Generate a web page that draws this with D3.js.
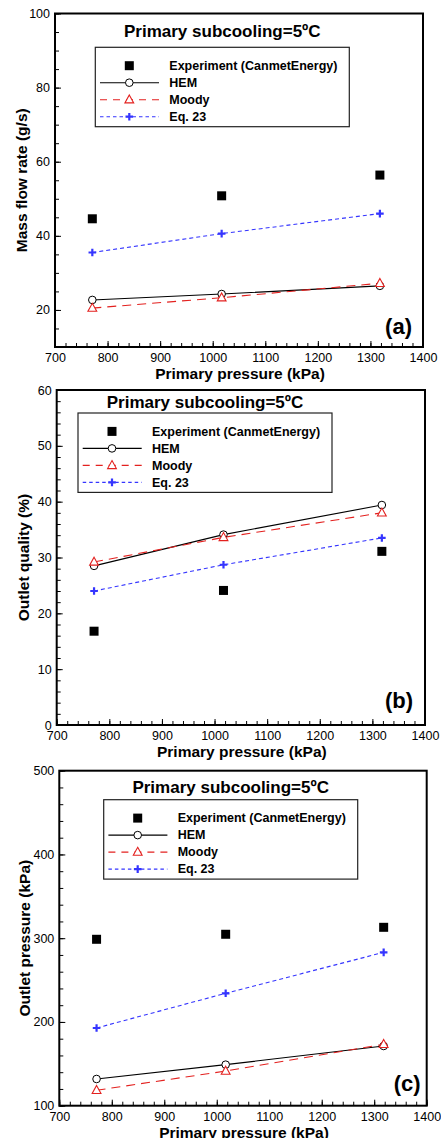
<!DOCTYPE html>
<html>
<head>
<meta charset="utf-8">
<script src="https://cdn.jsdelivr.net/npm/d3@7"></script>
<style>
  body { margin: 0; background: #fff; }
  svg { display: block; font-family: "Liberation Sans", Arial, sans-serif; }
  .tick text { font-size: 12.5px; fill: #000; font-family: "Liberation Sans", Arial, sans-serif; }
  .tick line { stroke: #000; stroke-width: 1; }
  .title { font-size: 17px; font-weight: bold; }
  .axis-title { font-size: 15.5px; font-weight: bold; }
  .legend text { font-size: 12.5px; font-weight: bold; }
  .tag { font-size: 22px; font-weight: bold; }
</style>
</head>
<body>
<svg id="chart" width="441" height="1138"></svg>
<script>
// datos
const pressure = [771, 1017, 1318];
const pressureTicks = [700, 800, 900, 1000, 1100, 1200, 1300, 1400];
const seriesNames = ["Experiment (CanmetEnergy)", "HEM", "Moody", "Eq. 23"];

// (a) caudal masico (g/s)
const flowExp = [44.6, 50.8, 56.4];
const flowHEM = [22.7, 24.3, 26.5];
const flowMoody = [20.5, 23.3, 27.2];
const flowEq23 = [35.5, 40.6, 46.0];
const flowTicks = [20, 40, 60, 80, 100];

// (b) calidad a la salida (%)
const qualityExp = [16.8, 24.1, 31.1];
const qualityHEM = [28.5, 34.1, 39.4];
const qualityMoody = [29.2, 33.6, 38.0];
const qualityEq23 = [24.0, 28.7, 33.5];
const qualityTicks = [0, 10, 20, 30, 40, 50, 60];

// (c) presion a la salida (kPa)
const outletExp = [298.7, 304.7, 313.0];
const outletHEM = [131.9, 149.0, 171.3];
const outletMoody = [118.4, 141.4, 173.3];
const outletEq23 = [192.8, 234.2, 283.1];
const outletTicks = [100, 200, 300, 400, 500];

const red = "#e3211f";
const blue = "#3535ff";

const svg = d3.select("#chart");

const panels = [
  {tag: "(a)", yLabel: "Mass flow rate (g/s)", exp: flowExp, hem: flowHEM, moody: flowMoody, eq: flowEq23,
   yDomain: [10, 100], yTicks: flowTicks, yMinor: 5,
   left: 55, right: 423, top: 13.5, bottom: 347,
   legend: {x: 95.3, y: 47.3}, titleY: 36.7, tagX: 412, tagY: 334.4, yTitleX: 22},
  {tag: "(b)", yLabel: "Outlet quality (%)", exp: qualityExp, hem: qualityHEM, moody: qualityMoody, eq: qualityEq23,
   yDomain: [0, 60], yTicks: qualityTicks, yMinor: 2,
   left: 56.7, right: 425, top: 390, bottom: 725,
   legend: {x: 78, y: 413}, titleY: 408.3, tagX: 413, tagY: 707.7, yTitleX: 23.5},
  {tag: "(c)", yLabel: "Outlet pressure (kPa)", exp: outletExp, hem: outletHEM, moody: outletMoody, eq: outletEq23,
   yDomain: [100, 500], yTicks: outletTicks, yMinor: 20,
   left: 59.3, right: 426.7, top: 770.7, bottom: 1105.7,
   legend: {x: 103.7, y: 799.7}, titleY: 793.3, tagX: 420.7, tagY: 1090.7, yTitleX: 25}
];

panels.forEach(drawPanel);

function markerSquare(sel) {
  sel.append("rect").attr("x", -4.5).attr("y", -4.5).attr("width", 9).attr("height", 9).attr("fill", "#000");
}
function markerCircle(sel) {
  sel.append("circle").attr("r", 3.8).attr("fill", "#fff").attr("stroke", "#000").attr("stroke-width", 1);
}
function markerTriangle(sel) {
  sel.append("path").attr("d", "M0,-4.8L4.4,3.2L-4.4,3.2Z")
    .attr("fill", "#fff").attr("stroke", red).attr("stroke-width", 1.1);
}
function markerPlus(sel) {
  sel.append("path").attr("d", "M-3.8,0H3.8M0,-3.8V3.8")
    .attr("stroke", blue).attr("stroke-width", 2.2);
}

function drawPanel(p) {
  const g = svg.append("g");

  const x = d3.scaleLinear().domain([700, 1400]).range([p.left, p.right]);
  const y = d3.scaleLinear().domain(p.yDomain).range([p.bottom, p.top]);

  // ejes: marcas hacia dentro
  g.append("g")
    .attr("transform", "translate(0," + p.bottom + ")")
    .call(d3.axisBottom(x).tickValues(d3.range(700, 1401, 20)).tickSize(-4).tickFormat(""))
    .call(a => a.select(".domain").remove());
  g.append("g")
    .attr("transform", "translate(0," + p.bottom + ")")
    .call(d3.axisBottom(x).tickValues(pressureTicks).tickSize(-6).tickPadding(6).tickFormat(d3.format("d")))
    .call(a => a.select(".domain").remove());

  g.append("g")
    .attr("transform", "translate(" + p.left + ",0)")
    .call(d3.axisLeft(y).tickValues(d3.range(p.yDomain[0], p.yDomain[1] + 0.001, p.yMinor)).tickSize(-4).tickFormat(""))
    .call(a => a.select(".domain").remove());
  g.append("g")
    .attr("transform", "translate(" + p.left + ",0)")
    .call(d3.axisLeft(y).tickValues(p.yTicks).tickSize(-6).tickPadding(5).tickFormat(d3.format("d")))
    .call(a => a.select(".domain").remove());

  // marco
  g.append("rect")
    .attr("x", p.left).attr("y", p.top)
    .attr("width", p.right - p.left).attr("height", p.bottom - p.top)
    .attr("fill", "none").attr("stroke", "#000").attr("stroke-width", 2);

  // series
  const line = d3.line().x((d, i) => x(pressure[i])).y(d => y(d));

  g.append("path").datum(p.hem).attr("d", line)
    .attr("fill", "none").attr("stroke", "#000").attr("stroke-width", 1.1);
  g.append("path").datum(p.moody).attr("d", line)
    .attr("fill", "none").attr("stroke", red).attr("stroke-width", 1.1).attr("stroke-dasharray", "9,6");
  g.append("path").datum(p.eq).attr("d", line)
    .attr("fill", "none").attr("stroke", blue).attr("stroke-width", 1.1).attr("stroke-dasharray", "4,3");

  const marks = [[p.exp, markerSquare], [p.hem, markerCircle], [p.moody, markerTriangle], [p.eq, markerPlus]];
  marks.forEach(([vals, fn]) => {
    g.selectAll(null).data(vals).enter()
      .append("g")
      .attr("transform", (d, i) => "translate(" + x(pressure[i]) + "," + y(d) + ")")
      .each(function() { fn(d3.select(this)); });
  });

  // leyenda
  const lw = 254, lh = 79.4;
  const leg = g.append("g").attr("class", "legend").attr("transform", "translate(" + p.legend.x + "," + p.legend.y + ")");
  leg.append("rect").attr("width", lw).attr("height", lh)
    .attr("fill", "#fff").attr("stroke", "#222").attr("stroke-width", 1.2);

  const styles = [
    {stroke: null, dash: null, fn: markerSquare},
    {stroke: "#000", dash: null, fn: markerCircle},
    {stroke: red, dash: "7,6", fn: markerTriangle},
    {stroke: blue, dash: "3.5,3", fn: markerPlus}
  ];
  seriesNames.forEach((name, i) => {
    const ry = 18.4 + i * 17;
    const s = styles[i];
    if (s.stroke) {
      leg.append("line").attr("x1", 4.7).attr("x2", 63.7).attr("y1", ry).attr("y2", ry)
        .attr("stroke", s.stroke).attr("stroke-width", 1.1)
        .attr("stroke-dasharray", s.dash);
    }
    s.fn(leg.append("g").attr("transform", "translate(34," + ry + ")"));
    leg.append("text").attr("x", 74).attr("y", ry + 4.4).text(name);
  });

  // titulo
  g.append("text").attr("class", "title")
    .attr("x", p.legend.x + lw / 2).attr("y", p.titleY)
    .attr("text-anchor", "middle")
    .text("Primary subcooling=5ºC");

  // etiquetas de ejes
  g.append("text").attr("class", "axis-title")
    .attr("x", (p.left + p.right) / 2 + 1).attr("y", p.bottom + 32)
    .attr("text-anchor", "middle")
    .text("Primary pressure (kPa)");

  g.append("text").attr("class", "axis-title")
    .attr("transform", "translate(" + p.yTitleX + "," + ((p.top + p.bottom) / 2) + ") rotate(-90)")
    .attr("text-anchor", "middle").attr("dy", "0.35em")
    .text(p.yLabel);

  g.append("text").attr("class", "tag")
    .attr("x", p.tagX).attr("y", p.tagY)
    .attr("text-anchor", "end")
    .text(p.tag);
}
</script>
</body>
</html>
